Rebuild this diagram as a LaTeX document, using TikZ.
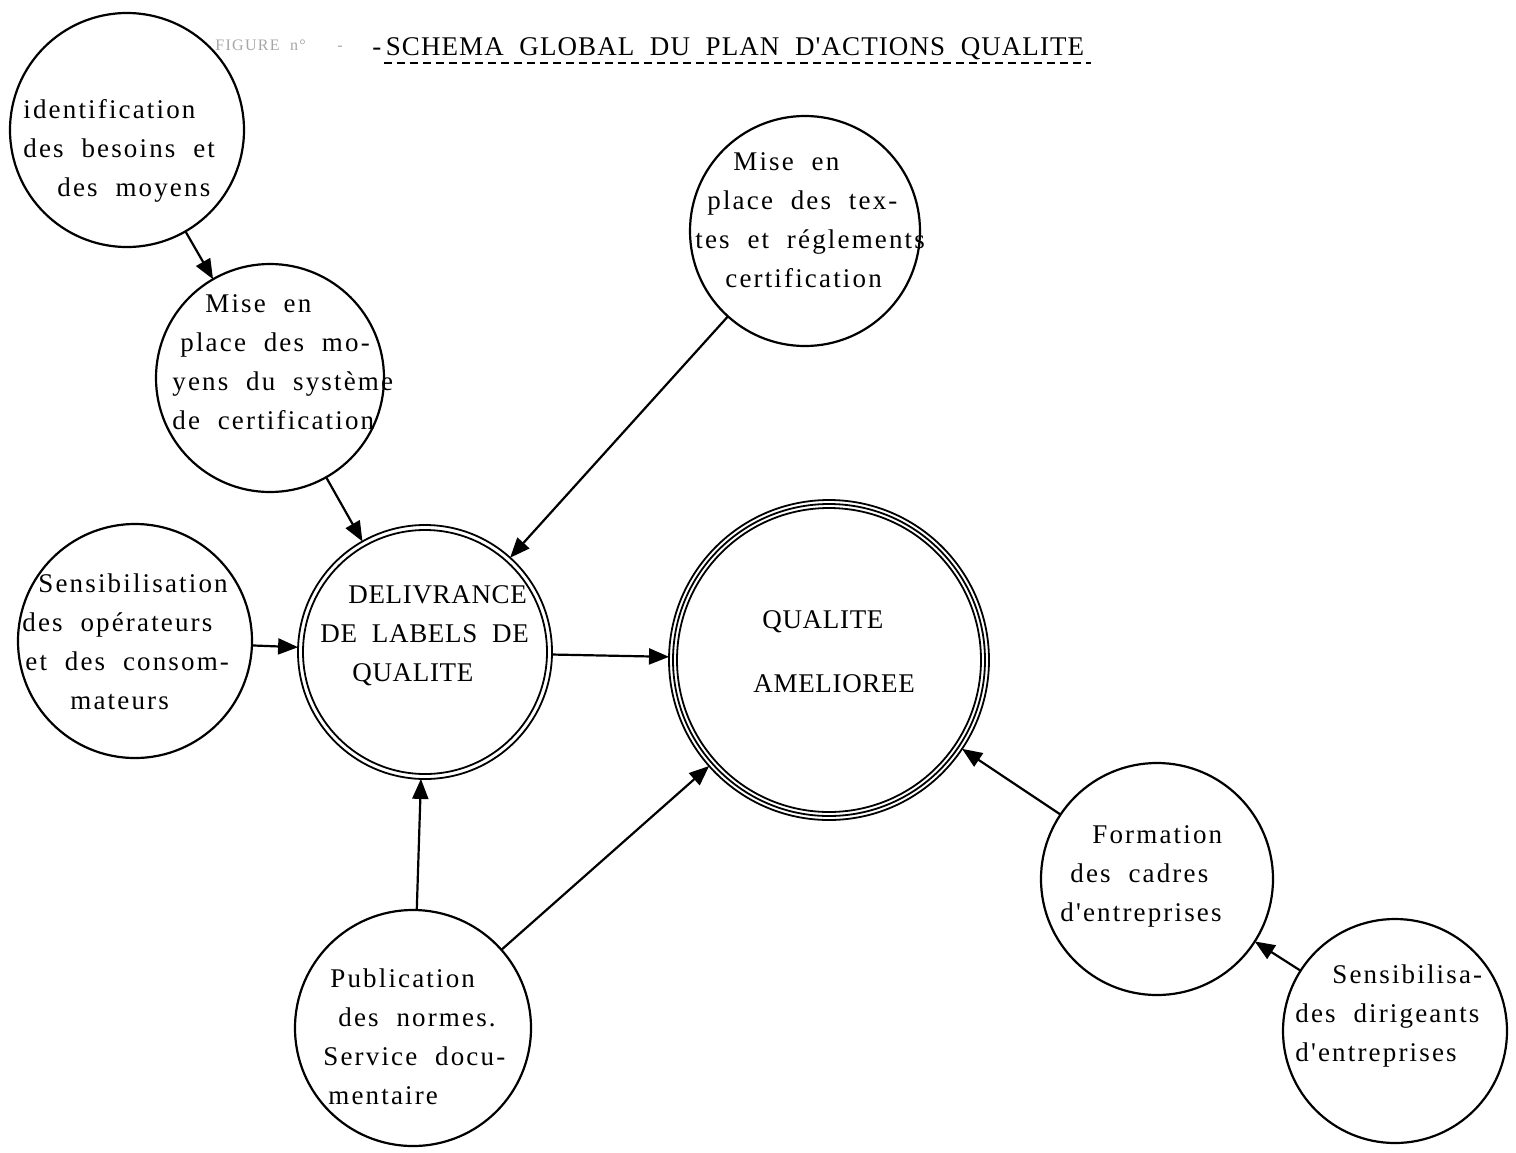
\documentclass[tikz,border=0pt]{standalone}
\usepackage{fontspec}
\setmainfont{Liberation Serif}
\newfontfamily\typefont[LetterSpace=8,WordSpace=2]{Liberation Serif}
\newfontfamily\capsfont[LetterSpace=2.5,WordSpace=2]{Liberation Serif}
\newfontfamily\headfont[LetterSpace=4,WordSpace=2]{Liberation Serif}
\usetikzlibrary{arrows.meta}
\newcommand\lines[1]{\begin{tabular}[t]{@{}l@{}}#1\end{tabular}}

\begin{document}
\begin{tikzpicture}[x=0.5pt,y=-0.5pt,
  bubble/.style={circle, draw, line width=1.1pt, inner sep=0pt, outer sep=0pt, minimum size=#1},
  ring/.style={line width=0.9pt},
  txt/.style={anchor=base west, inner sep=0pt, font=\typefont\fontsize{13.5}{19.5}\selectfont},
  caps/.style={txt, font=\capsfont\fontsize{13.5}{19.5}\selectfont},
  flow/.style={-{Triangle[length=10pt,width=8pt]}, line width=1.1pt},
]
\useasboundingbox (0,0) rectangle (1516,1152);

% heading
\node[txt, text=black!35, font=\typefont\fontsize{8}{10}\selectfont] (fig) at (215,50) {FIGURE n° ~ -};
\node[txt, font=\headfont\fontsize{13.5}{19.5}\selectfont] (title) at (372,55) {-\,SCHEMA GLOBAL DU PLAN D'ACTIONS QUALITE};
\draw[line width=0.8pt, dash pattern=on 4pt off 2.5pt]
  ([xshift=6pt,yshift=-4pt]title.base west) -- ([xshift=3pt,yshift=-4pt]title.base east);

% circles
\node[bubble=117pt] (ident)  at (127,130) {};
\node[bubble=114pt] (moyens) at (270,378) {};
\node[bubble=115pt] (textes) at (805,231) {};
\node[bubble=117pt] (sensib) at (135,641) {};
\node[bubble=127pt, ring] (deliv) at (425,652) {};
\draw[ring] (deliv.center) circle[radius=61pt];
\node[bubble=160pt, ring] (qual) at (829,660) {};
\draw[ring] (qual.center) circle[radius=78pt];
\draw[ring] (qual.center) circle[radius=76pt];
\node[bubble=118pt] (pub)   at (413,1028) {};
\node[bubble=116pt] (form)  at (1157,879) {};
\node[bubble=112pt] (dirig) at (1395,1031) {};

% texts
\node[txt] (tident) at (23,118) {\lines{identification\\des besoins et\\\hspace*{17pt}des moyens}};
\node[txt] (tmoyens) at (172,312) {\lines{\hspace*{16.5pt}Mise en\\\hspace*{4pt}place des mo-\\yens du système\\de certification}};
\node[txt] (ttextes) at (695,170) {\lines{\hspace*{19pt}Mise en\\\hspace*{6pt}place des tex-\\tes et réglements\\\hspace*{15pt}certification}};
\node[txt] (tsensib) at (22,592) {\lines{\hspace*{8pt}Sensibilisation\\des opérateurs\\\hspace*{1.5pt}et des consom-\\\hspace*{24pt}mateurs}};
\node[caps] (tdeliv) at (320,603) {\lines{\hspace*{14pt}DELIVRANCE\\DE LABELS DE\\\hspace*{16pt}QUALITE}};
\node[caps] (tqual) at (753,628) {\lines{\hspace*{4.5pt}QUALITE\\[12.5pt]AMELIOREE}};
\node[txt] (tpub) at (323,987) {\lines{\hspace*{3.5pt}Publication\\\hspace*{7.5pt}des normes.\\Service docu-\\\hspace*{2.5pt}mentaire}};
\node[txt] (tform) at (1060,843) {\lines{\hspace*{16pt}Formation\\\hspace*{5pt}des cadres\\d'entreprises}};
\node[txt] (tdirig) at (1295,983) {\lines{\hspace*{18.5pt}Sensibilisa-\\des dirigeants\\d'entreprises}};

% connectors
\draw[flow] (ident) -- (moyens);
\draw[flow] (moyens) -- (deliv);
\draw[flow] (textes) -- (deliv);
\draw[flow] (sensib) -- (deliv);
\draw[flow] (pub) -- (deliv);
\draw[flow] (deliv) -- (qual);
\draw[flow] (pub) -- (qual);
\draw[flow] (form) -- (qual);
\draw[flow] (dirig) -- (form);
\end{tikzpicture}
\end{document}
